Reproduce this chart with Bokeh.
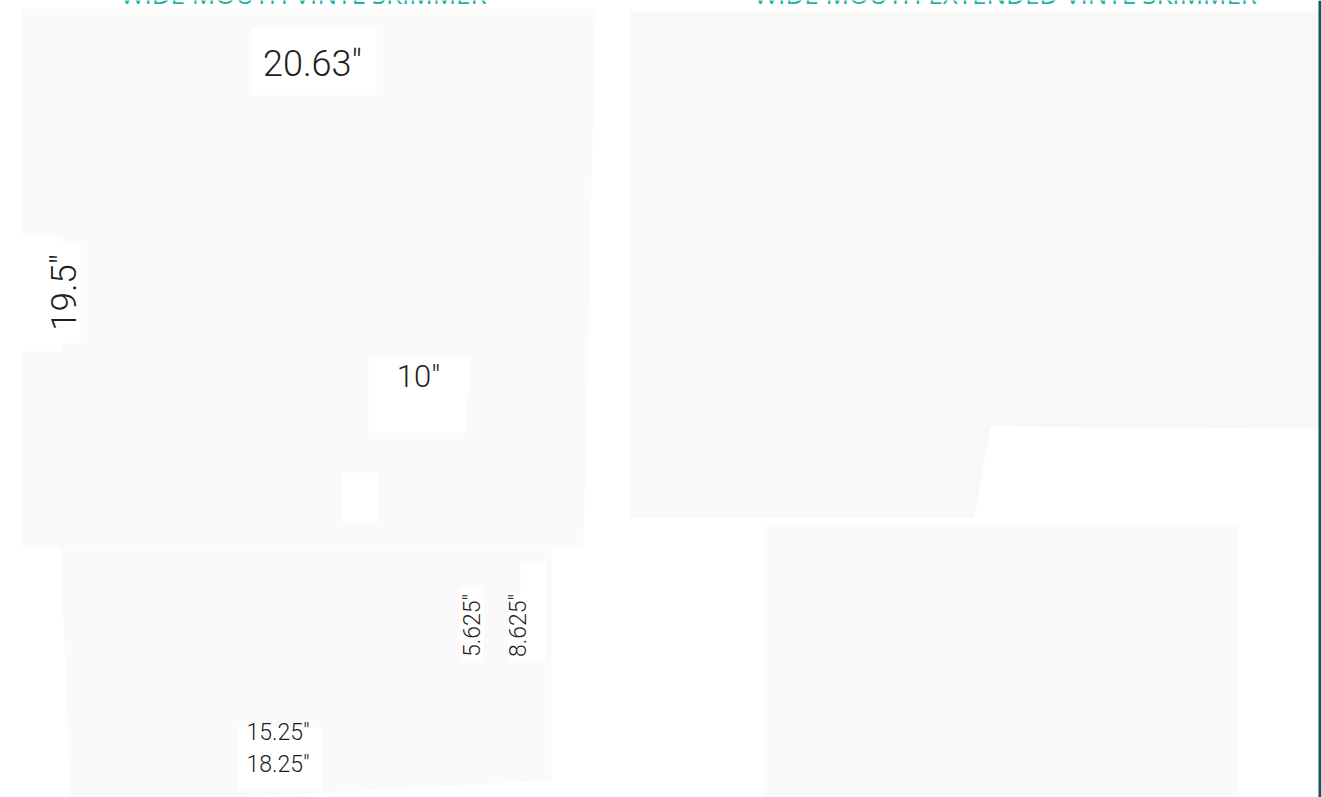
from bokeh.plotting import figure
from bokeh.models import Range1d, ColumnDataSource
from bokeh.core.properties import value
from bokeh.embed import file_html
from bokeh.resources import INLINE
import math

# ---- content -------------------------------------------------------------
titles = ["WIDE MOUTH VINYL SKIMMER", "WIDE MOUTH EXTENDED VINYL SKIMMER"]
labels = ['20.63"', '19.5"', '10"', '5.625"', '8.625"', '15.25"', '18.25"']

# ---- layout (reference pixel coordinates) --------------------------------
W, H = 1321, 797

# product silhouettes (light grey photo backgrounds)
shape_xs = [
    [22, 595, 583, 22],                       # left skimmer, upper
    [60, 551, 551, 231, 70],                  # left skimmer, lower
    [630, 1318, 1318, 990, 974, 630],         # right skimmer, upper
    [764, 1238, 1238, 764],                   # right skimmer, lower
]
shape_ys = [
    [8, 8, 546, 546],
    [546, 546, 780, 797, 797],
    [11, 11, 428, 426, 517, 517],
    [525, 525, 800, 800],
]
shape_colors = ["#fafafa", "#fafafa", "#f8f8f8", "#fafafa"]

# white label boxes
box_l = [251, 22, 62, 368, 368, 342, 459, 508, 520, 237]
box_r = [376, 62, 80, 470, 465, 378, 483, 545, 546, 321]
box_t = [27, 235, 243, 358, 393, 472, 586, 593, 561, 727]
box_b = [95, 351, 343, 393, 432, 522, 662, 662, 593, 790]

# label placement
lab_x = [312, 64, 418, 472, 518, 246, 246]
lab_y = [63, 292, 376, 625, 625, 732, 764]
lab_angle = [0, math.pi / 2, 0, math.pi / 2, math.pi / 2, 0, 0]
lab_size = ["36px", "35px", "31px", "23px", "23px", "23px", "23px"]
lab_align = ["center", "center", "center", "center", "center", "left", "left"]

title_x = [303, 1005]
title_y = [-7, -7]

p = figure(
    width=W, height=H,
    x_range=Range1d(0, W), y_range=Range1d(H, 0),
    output_backend="svg", toolbar_location=None, min_border=0,
    x_axis_location=None, y_axis_location=None,
    background_fill_color="white", border_fill_color="white",
    outline_line_color=None,
)
p.xgrid.visible = False
p.ygrid.visible = False

p.patches(xs=shape_xs, ys=shape_ys, fill_color=shape_colors, line_color=None)

p.quad(left=box_l, right=box_r, top=box_t, bottom=box_b,
       fill_color="white", line_color=None)

# dark page-edge bar on the right
p.quad(left=[1318], right=[1321], top=[0], bottom=[797],
       fill_color="#0a5866", line_color=None)

src = ColumnDataSource(dict(x=lab_x, y=lab_y, t=labels, a=lab_angle,
                            s=lab_size, al=lab_align))
p.text(x="x", y="y", text="t", angle="a", text_font_size="s",
       text_align="al", text_baseline="alphabetic",
       text_font=value("Roboto Light, Roboto"), text_color="#1e1e1e",
       source=src)

p.text(x=title_x, y=title_y, text=titles, text_align="center",
       text_baseline="alphabetic", text_font=value("Open Sans"),
       text_font_size="26px", text_color="#22b5a3")

open("out.html", "w").write(file_html(p, INLINE))
